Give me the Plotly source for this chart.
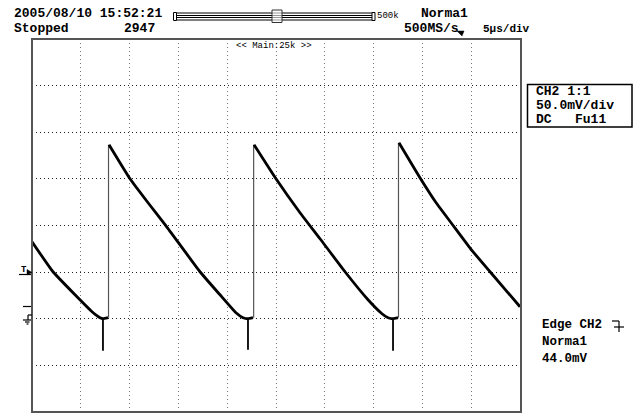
import plotly.graph_objects as go

# ---------------- data (time in microseconds, voltage in mV) ----------------
ramp_t = [0.0, 2.15, 4.41, 6.15, 6.97, 7.27, 7.79, None,
          7.89, 10.04, 11.89, 13.73, 17.21, 19.26, 20.9, 21.62, 22.13, 22.64, None,
          22.75, 25.0, 27.46, 29.51, 32.07, 34.43, 35.86, 36.48, 36.99, 37.5, None,
          37.6, 39.75, 41.39, 43.09, 44.94, 46.93, 50.0]
ramp_v = [82.6, 50.4, 25.7, 7.5, 1.1, 0.0, 1.1, None,
          186.6, 150.1, 124.4, 99.7, 50.4, 25.7, 6.4, 1.1, 0.0, 1.1, None,
          186.6, 150.1, 113.7, 85.8, 50.4, 20.4, 5.4, 1.1, 0.0, 1.1, None,
          188.7, 151.2, 124.6, 100.8, 75.0, 50.4, 12.9]

edge_t = [7.84, 7.84, None, 22.71, 22.71, None, 37.55, 37.55]
edge_v = [1.1, 186.6, None, 1.1, 186.6, None, 1.1, 188.7]

spike_t = [7.27, 7.27, None, 22.13, 22.13, None, 36.99, 36.99]
spike_v = [0.0, -34.3, None, 0.0, -33.2, None, 0.0, -34.3]

x_range = [0, 50]        # 10 div x 5 us/div
y_range = [-100, 300]    # 8 div x 50 mV/div
x_grid = [5 * i for i in range(1, 10)]
y_grid = [-100 + 50 * i for i in range(1, 8)]

header_left = ["2005/08/10 15:52:21", "Stopped"]
record_len = "2947"
trig_mode = "Norma1"
sample_rate = "500MS/s"
time_div = "5µs/div"
zoom_label = "<< Main:25k >>"
mem_label = "500k"
ch_box = ["CH2 1:1", "50.0mV/div", "DC   Fu11"]
trig_box = ["Edge CH2", "Norma1", "44.0mV"]

# ---------------- geometry helpers (pixel -> paper) ----------------
L, R, T, B = 32, 116, 39, 3
W, H = 636, 415
PW, PH = W - L - R, H - T - B


def px(x):
    return (x - L) / PW


def py(y):
    return (H - B - y) / PH


fig = go.Figure()
fig.add_trace(go.Scatter(x=edge_t, y=edge_v, mode="lines",
                         line=dict(color="#555555", width=1.2),
                         hoverinfo="skip", showlegend=False))
fig.add_trace(go.Scatter(x=spike_t, y=spike_v, mode="lines",
                         line=dict(color="#000000", width=1.8),
                         hoverinfo="skip", showlegend=False))
fig.add_trace(go.Scatter(x=ramp_t, y=ramp_v, mode="lines",
                         line=dict(color="#000000", width=2.8, shape="spline", smoothing=0.4),
                         connectgaps=False, showlegend=False))

MONO = "Liberation Mono"
ann = []


def text(x, y, s, size=13, bold=True, color="#000000"):
    ann.append(dict(x=px(x), y=py(y), xref="paper", yref="paper",
                    text=s, showarrow=False, xanchor="left", yanchor="middle",
                    font=dict(family=MONO, size=size, color=color,
                              weight="bold" if bold else "normal")))


text(12, 14, header_left[0], 13)
text(12, 29, header_left[1], 13)
text(122, 29, record_len, 13)
text(419, 14, trig_mode, 13)
text(402, 29, sample_rate, 13)
text(481, 29, time_div, 11)
text(375, 16, mem_label, 9, bold=False)
text(234, 46, zoom_label, 9, bold=False)
for i, s in enumerate(ch_box):
    text(534, 91.5 + 14 * i, s, 13)
for i, s in enumerate(trig_box):
    text(540, 325 + 17 * i, s, 12.5)
text(19, 270, "T", 9)

shapes = []


def line(x0, y0, x1, y1, color="#000000", width=1):
    shapes.append(dict(type="line", xref="paper", yref="paper",
                       x0=px(x0), y0=py(y0), x1=px(x1), y1=py(y1),
                       line=dict(color=color, width=width)))


def rect(x0, y0, x1, y1, color="#000000", width=1, fill=None):
    shapes.append(dict(type="rect", xref="paper", yref="paper",
                       x0=px(x0), y0=py(y0), x1=px(x1), y1=py(y1),
                       line=dict(color=color, width=width),
                       fillcolor=fill if fill else "rgba(0,0,0,0)"))


def tri(points, color="#000000"):
    path = "M " + " L ".join(f"{px(a)},{py(b)}" for a, b in points) + " Z"
    shapes.append(dict(type="path", xref="paper", yref="paper", path=path,
                       line=dict(color=color, width=0.5), fillcolor=color))


# plot frame
rect(32, 39, 521, 412, color="#555555", width=2)
# slider bar in header
rect(173.5, 12.5, 176.5, 20.5, width=1)
line(176.5, 13, 372, 13, width=1)
line(176.5, 15.5, 372, 15.5, width=1)
line(176.5, 17.5, 372, 17.5, width=1)
line(176.5, 20, 372, 20, width=1)
rect(372, 12.5, 375, 20.5, width=1)
rect(272, 10, 282, 22.5, color="#333333", width=1, fill="rgba(255,255,255,0.6)")
# sample-rate glyph arrow
tri([(457, 31), (464, 31), (462, 36)])
# channel info box
rect(527.5, 84.5, 632, 127, width=1.5)
# trigger-edge symbol
line(612, 321, 619, 321, width=1.2)
line(619, 321, 619, 332, width=1.2)
line(614, 327, 624, 327, width=1.2)
# left markers: trigger level, offset, ground
line(19, 274.5, 31, 274.5, width=1.2)
tri([(27, 269.5), (32, 272.5), (27, 275)])
line(23, 306.5, 31, 306.5, width=1.2)
line(28, 315, 32, 315, width=1.2)
line(28, 315, 28, 320, width=1.2)
line(23, 320, 31, 320, width=1.2)
line(25, 322, 29.5, 322, width=1.2)
line(26.5, 324, 28.5, 324, width=1.2)

fig.update_layout(
    width=W, height=H,
    margin=dict(l=L, r=R, t=T, b=B, pad=0),
    paper_bgcolor="white", plot_bgcolor="white",
    annotations=ann, shapes=shapes,
    xaxis=dict(range=x_range, tickvals=x_grid, showticklabels=False,
               showgrid=True, gridcolor="#777777", gridwidth=1,
               griddash="1px,3px", zeroline=False, ticks="",
               showline=False, fixedrange=True),
    yaxis=dict(range=y_range, tickvals=y_grid, showticklabels=False,
               showgrid=True, gridcolor="#222222", gridwidth=1,
               griddash="1px,3px", zeroline=False, ticks="",
               showline=False, fixedrange=True),
    hovermode=False,
)

fig.write_html("out.html", config=dict(displayModeBar=False),
               post_script="document.body.style.margin='0';document.body.style.overflow='hidden';")
